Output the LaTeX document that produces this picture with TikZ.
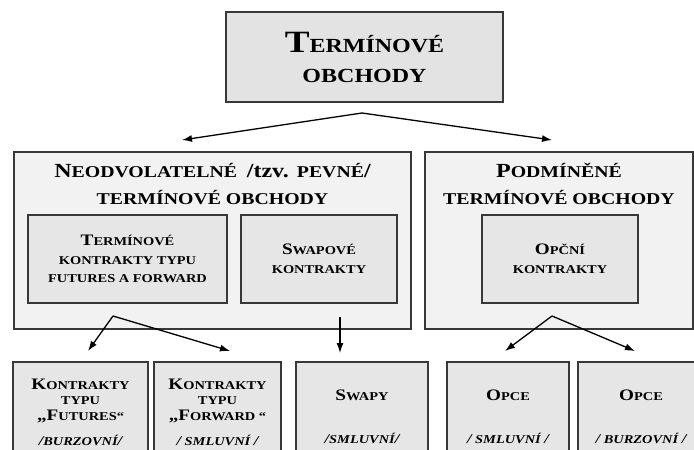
\documentclass[tikz,border=0pt]{standalone}
\usepackage{fontspec}
\setmainfont{Liberation Serif}[FakeStretch=1.2]
\usetikzlibrary{arrows.meta, positioning}

\definecolor{topfill}{HTML}{E3E3E3}
\definecolor{outerfill}{HTML}{F2F2F2}
\definecolor{innerfill}{HTML}{E6E6E6}
\definecolor{edge}{HTML}{383838}

% fake small caps: big first letters, small rest
\newcommand{\scA}[2]{{\fontsize{31}{31}\selectfont #1}{\fontsize{20}{20}\selectfont #2}}
\newcommand{\scB}[2]{{\fontsize{20}{20}\selectfont #1}{\fontsize{16.5}{16.5}\selectfont #2}}
\newcommand{\scC}[2]{{\fontsize{16}{16}\selectfont #1}{\fontsize{12}{12}\selectfont #2}}
\newcommand{\slsh}{{\fontsize{13.5}{13.5}\selectfont /}}

\begin{document}
\begin{tikzpicture}[x=1pt, y=-1pt,
    box/.style={draw=edge, line width=1.1pt, inner sep=0pt},
    ttl/.style={anchor=base, align=center, inner sep=0pt, font=\bfseries\fontsize{16.5}{27}\selectfont},
    lbl/.style={align=center, font=\bfseries\fontsize{12}{18.5}\selectfont},
    low/.style={anchor=base, align=center, inner sep=0pt, font=\bfseries\fontsize{12}{15.5}\selectfont},
    kind/.style={anchor=base, inner sep=0pt, font=\bfseries\itshape\fontsize{12}{12}\selectfont},
    arr/.style={-{Latex[length=10pt,width=7pt]}, line width=1.3pt}]
    \useasboundingbox (0,0) rectangle (694,450);
    \clip (0,0) rectangle (694,450);

    % Boxes
    \node[box, fill=topfill, minimum width=277, minimum height=90, align=center,
          font=\bfseries\fontsize{20}{30}\selectfont] (obchody) at (364.5,57)
        {\scA{T}{ERMÍNOVÉ}\\\scA{}{OBCHODY}};
    \node[box, fill=outerfill, minimum width=397, minimum height=177] (pevne) at (212.5,240.5) {};
    \node[box, fill=outerfill, minimum width=268, minimum height=177] (podm) at (559,240.5) {};
    \node[box, fill=innerfill, minimum width=199, minimum height=88, lbl] (termk) at (127.5,259)
        {\scC{T}{ERMÍNOVÉ}\\\scC{}{KONTRAKTY TYPU}\\\scC{}{FUTURES A FORWARD}};
    \node[box, fill=innerfill, minimum width=156, minimum height=88, lbl] (swapk) at (319,259)
        {\scC{S}{WAPOVÉ}\\\scC{}{KONTRAKTY}};
    \node[box, fill=innerfill, minimum width=156, minimum height=88, lbl] (opck) at (560,259)
        {\scC{O}{PČNÍ}\\\scC{}{KONTRAKTY}};

    % Bottom boxes
    \node[box, fill=innerfill, minimum width=135, minimum height=100] (futures) at (80.5,412) {};
    \node[box, fill=innerfill, minimum width=127, minimum height=100] (forward) at (217.5,412) {};
    \node[box, fill=innerfill, minimum width=132, minimum height=100] (swapy) at (362,412) {};
    \node[box, fill=innerfill, minimum width=122, minimum height=100] (opce1) at (508,412) {};
    \node[box, fill=innerfill, minimum width=126, minimum height=100] (opce2) at (641,412) {};

    % Titles (base = last line)
    \node[ttl] (pevne title) at (212.5,204)
        {\scB{N}{EODVOLATELNÉ}\ \ \scB{/tzv. }{PEVNÉ}\scB{/}{}\\\scB{}{TERMÍNOVÉ OBCHODY}};
    \node[ttl] (podm title) at (559,204)
        {\scB{P}{ODMÍNĚNÉ}\\\scB{}{TERMÍNOVÉ OBCHODY}};

    % Bottom labels
    \node[low] (futures text) at (80.5,420) {\scC{K}{ONTRAKTY}\\\scC{}{TYPU}\\\scC{„F}{UTURES“}};
    \node[low] (forward text) at (217.5,420) {\scC{K}{ONTRAKTY}\\\scC{}{TYPU}\\\scC{„F}{ORWARD “}};
    \node[low] (swapy text) at (362,400) {\scC{S}{WAPY}};
    \node[low] (opce1 text) at (508,400) {\scC{O}{PCE}};
    \node[low] (opce2 text) at (641,400) {\scC{O}{PCE}};
    \node[kind] (futures kind) at (80.5,445) {\slsh BURZOVNÍ\slsh};
    \node[kind] (forward kind) at (217.5,445) {\slsh\ SMLUVNÍ \slsh};
    \node[kind] (swapy kind) at (362,443) {\slsh SMLUVNÍ\slsh};
    \node[kind] (opce1 kind) at (508,443) {\slsh\ SMLUVNÍ \slsh};
    \node[kind] (opce2 kind) at (641,443) {\slsh\ BURZOVNÍ \slsh};

    % Points
    \coordinate (top peak) at (362,113);
    \coordinate (pevne end) at (182,140);
    \coordinate (podm end) at (552,140);
    \coordinate (term peak) at (113,316);
    \coordinate (futures end) at (88,351);
    \coordinate (forward end) at (230,351);
    \coordinate (swap start) at (340,317);
    \coordinate (swapy end) at (340,353);
    \coordinate (opc peak) at (552,316);
    \coordinate (opce1 end) at (505,351);
    \coordinate (opce2 end) at (635,351);

    % Arrows
    \draw[arr] (top peak) -- (pevne end);
    \draw[arr] (top peak) -- (podm end);
    \draw[arr] (term peak) -- (futures end);
    \draw[arr] (term peak) -- (forward end);
    \draw[arr] (swap start) -- (swapy end);
    \draw[arr] (opc peak) -- (opce1 end);
    \draw[arr] (opc peak) -- (opce2 end);
\end{tikzpicture}
\end{document}
